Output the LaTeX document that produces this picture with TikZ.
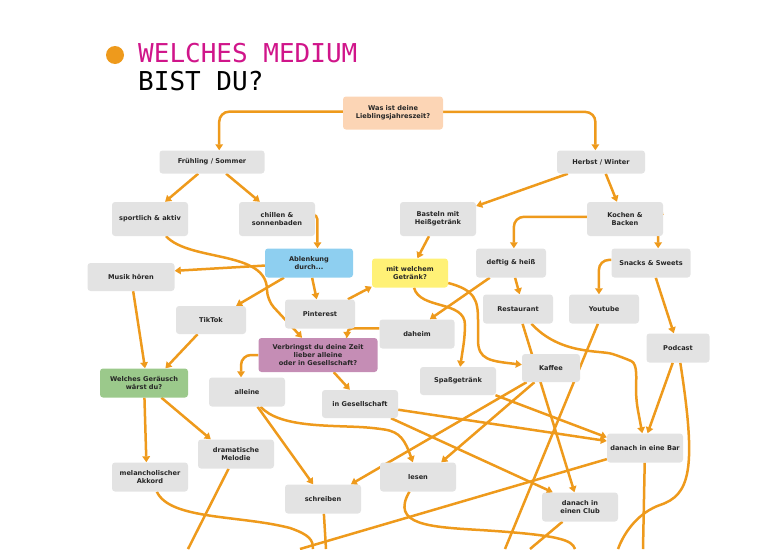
\documentclass[tikz,border=0pt]{standalone}
\usepackage{fontspec}
\setmainfont{DejaVu Sans}
\newfontfamily\titlefont{DejaVu Sans Mono}
\usetikzlibrary{arrows.meta}
\pgfdeclarelayer{bg}
\pgfsetlayers{bg,main}
\definecolor{arr}{HTML}{EE9A1C}
\definecolor{boxg}{HTML}{E3E3E3}
\definecolor{peach}{HTML}{FCD5B5}
\definecolor{skyb}{HTML}{8ECFF0}
\definecolor{yel}{HTML}{FFF176}
\definecolor{mauve}{HTML}{C58DB5}
\definecolor{grn}{HTML}{9BC98B}
\definecolor{mag}{HTML}{D0158A}
\tikzset{
 box/.style={rectangle,rounded corners=3pt,fill=boxg,inner sep=0pt,align=center,font=\fontsize{6.6}{8}\selectfont\bfseries,text=black!85},
 ar/.style={draw=arr,line width=2.5pt,-{Triangle[length=6pt,width=7.5pt]},rounded corners=10pt},
 ln/.style={draw=arr,line width=2.5pt},
}
\newcommand{\sh}[3]{([shift={(#1,#2)}]#3)}
\begin{document}
\begin{tikzpicture}[x=1pt,y=-1pt]
\useasboundingbox (0,0) rectangle (770,549);
\fill[arr] (115,55) circle (9);
\node[anchor=base west,inner sep=0,text=mag,font=\titlefont\fontsize{26}{26}\selectfont] (t1) at (138,62) {WELCHES MEDIUM};
\node[anchor=base west,inner sep=0,text=black,font=\titlefont\fontsize{26}{26}\selectfont] (t2) at (138,90) {BIST DU?};

\node[box,fill=peach,minimum width=100pt,minimum height=33pt] (Q1) at (393,113) {Was ist deine\\Lieblingsjahreszeit?};
\node[box,minimum width=105pt,minimum height=23pt] (FS) at (212,162) {Frühling / Sommer};
\node[box,minimum width=88pt,minimum height=23pt] (HW) at (601,162) {Herbst / Winter};
\node[box,minimum width=76pt,minimum height=34pt] (sport) at (150,219) {sportlich \& aktiv};
\node[box,minimum width=76pt,minimum height=34pt] (chill) at (277,219) {chillen \&\\sonnenbaden};
\node[box,minimum width=76pt,minimum height=34pt] (bast) at (438,219) {Basteln mit\\Heißgetränk};
\node[box,minimum width=76pt,minimum height=34pt] (koch) at (625,219) {Kochen \&\\Backen};
\node[box,minimum width=87pt,minimum height=28pt] (musik) at (131,277) {Musik hören};
\node[box,fill=skyb,minimum width=88pt,minimum height=29pt] (abl) at (309,263) {Ablenkung\\durch...};
\node[box,fill=yel,minimum width=76pt,minimum height=29pt] (getr) at (410,273) {mit welchem\\Getränk?};
\node[box,minimum width=70pt,minimum height=29pt] (deft) at (511,263) {deftig \& heiß};
\node[box,minimum width=79pt,minimum height=29pt] (snack) at (651,263) {Snacks \& Sweets};
\node[box,minimum width=70pt,minimum height=28pt] (tik) at (211,320) {TikTok};
\node[box,minimum width=70pt,minimum height=29pt] (pin) at (320,314) {Pinterest};
\node[box,minimum width=70pt,minimum height=29pt] (rest) at (518,309) {Restaurant};
\node[box,minimum width=70pt,minimum height=29pt] (yt) at (604,309) {Youtube};
\node[box,minimum width=75pt,minimum height=29pt] (dah) at (417,334) {daheim};
\node[box,fill=mauve,minimum width=119pt,minimum height=34pt] (verb) at (318,355) {Verbringst du deine Zeit\\lieber alleine\\oder in Gesellschaft?};
\node[box,minimum width=63pt,minimum height=29pt] (pod) at (678,348) {Podcast};
\node[box,minimum width=58pt,minimum height=28pt] (kaf) at (551,368) {Kaffee};
\node[box,minimum width=76pt,minimum height=28pt] (spass) at (458,381) {Spaßgetränk};
\node[box,fill=grn,minimum width=88pt,minimum height=29pt] (ger) at (144,383) {Welches Geräusch\\wärst du?};
\node[box,minimum width=76pt,minimum height=29pt] (all) at (247,392) {alleine};
\node[box,minimum width=76pt,minimum height=28pt] (ges) at (360,404) {in Gesellschaft};
\node[box,minimum width=76pt,minimum height=29pt] (bar) at (645,448) {danach in eine Bar};
\node[box,minimum width=76pt,minimum height=29pt] (dram) at (236,454) {dramatische\\Melodie};
\node[box,minimum width=76pt,minimum height=29pt] (mel) at (150,477) {melancholischer\\Akkord};
\node[box,minimum width=76pt,minimum height=29pt] (les) at (418,477) {lesen};
\node[box,minimum width=76pt,minimum height=29pt] (schr) at (323,499) {schreiben};
\node[box,minimum width=76pt,minimum height=29pt] (club) at (580,507) {danach in\\einen Club};

\coordinate (e1) at (505,549);
\coordinate (e2) at (618,549);
\coordinate (e3) at (643,549);
\coordinate (e4) at (300,549);
\coordinate (e5) at (188,549);
\coordinate (e6) at (313,549);
\coordinate (e7) at (326,549);
\coordinate (e8) at (575,549);
\coordinate (e9) at (530,549);

\begin{pgfonlayer}{bg}
\draw[ar] \sh{-60}{-4}{Q1} -| \sh{31}{-19}{FS};
\draw[ar] \sh{60}{-4}{Q1} -| \sh{-24}{-19}{HW};
\draw[ar] \sh{-27}{17}{FS} -- \sh{17}{-22}{sport};
\draw[ar] \sh{25}{17}{FS} -- \sh{-19}{-22}{chill};
\draw[ar] \sh{-36}{14}{HW} -- \sh{40}{-3}{bast};
\draw[ar] \sh{4}{14}{HW} -- \sh{-2}{-23}{koch};
\draw[ar,rounded corners=5pt] \sh{43}{-7}{chill} -| \sh{28}{-17}{abl};
\draw[ar] \sh{-43}{-6}{koch} -| \sh{9}{-17}{deft};
\draw[ar,rounded corners=5pt] \sh{42}{-7}{koch} -| \sh{24}{-17}{snack};
\draw[ar] \sh{-12}{22}{bast} -- \sh{6}{-18}{getr};
\draw[ar] \sh{10}{19}{deft} -- \sh{9}{-18}{rest};
\draw[ar] \sh{-40}{-5}{snack} -| \sh{-17}{-19}{yt};
\draw[ar] \sh{7}{15}{snack} -- \sh{-6}{-17}{pod};
\draw[ar] \sh{-4}{21}{sport} .. controls (190,262) and (267,250) .. (267,300) -- \sh{-51}{-20}{verb};
\draw[ar] \sh{-44}{-5}{abl} -- \sh{49}{3}{musik};
\draw[ar] \sh{-29}{18}{abl} -- \sh{19}{-22}{tik};
\draw[ar] \sh{4}{20}{abl} -- \sh{3}{-15}{pin};
\draw[ar] \sh{23}{-17}{pin} -- \sh{-42}{5}{getr};
\draw[ar] \sh{19}{19}{musik} -- \sh{-13}{-15}{ger};
\draw[ar] \sh{-3}{19}{tik} -- \sh{17}{-16}{ger};
\draw[ar,rounded corners=5pt] \sh{-40}{-8}{dah} -| \sh{45}{-18}{verb};
\draw[ar] \sh{-63}{0}{verb} -| \sh{-15}{-19}{all};
\draw[ar] \sh{22}{21}{verb} -- \sh{-8}{-16}{ges};
\draw[ar] \sh{-35}{3}{deft} -- \sh{16}{-17}{dah};
\draw[ar] \sh{-17}{17}{getr} .. controls (420,310) and (465,300) .. (465,335) -- \sh{7}{-18}{spass};
\draw[ar] \sh{42}{5}{getr} .. controls (475,290) and (478,300) .. (478,330) .. controls (478,360) and (490,361) .. \sh{-33}{-7}{kaf};
\draw[ar] \sh{-7}{15}{rest} -- \sh{13}{-19}{club};
\draw[ar] \sh{23}{15}{rest} .. controls (560,355) and (600,350) .. (622,357) .. controls (638,364) and (636,380) .. (636,400) -- \sh{-9}{-17}{bar};
\draw[ln] \sh{3}{19}{yt} -- (e1);
\draw[ar] \sh{-19}{19}{pod} -- \sh{26}{-16}{bar};
\draw[ln] \sh{19}{19}{pod} .. controls (697,470) and (690,495) .. (660,505) .. controls (640,512) and (625,530) .. (e2);
\draw[ln] \sh{11}{17}{bar} -- (e3);
\draw[ln] \sh{-41}{10}{bar} -- (e4);
\draw[ar] \sh{7}{17}{spass} -- \sh{-39}{-16}{bar};
\draw[ar] \sh{40}{-1}{ges} -- \sh{-41}{-3}{bar};
\draw[ar] \sh{40}{6}{ges} -- \sh{-41}{5}{club};
\draw[ar] \sh{-16}{19}{kaf} -- \sh{7}{-19}{schr};
\draw[ar] \sh{9}{19}{kaf} -- \sh{41}{-1}{les};
\draw[ar] \sh{17}{19}{all} -- \sh{-23}{-18}{schr};
\draw[ar] \sh{25}{18}{all} .. controls (280,428) and (330,425) .. (375,428) .. controls (400,432) and (405,440) .. \sh{-13}{-17}{les};
\draw[ar] \sh{-13}{17}{ger} -- \sh{-7}{-17}{mel};
\draw[ar] \sh{8}{22}{ger} -- \sh{-40}{-8}{dram};
\draw[ln] \sh{2}{19}{dram} -- (e5);
\draw[ln] \sh{7}{17}{mel} .. controls (170,520) and (240,515) .. (290,528) .. controls (310,535) and (313,540) .. (e6);
\draw[ln] \sh{0}{18}{schr} -- (e7);
\draw[ln] \sh{-30}{18}{les} .. controls (390,525) and (430,527) .. (480,530) .. controls (560,535) and (572,540) .. (e8);
\draw[ln] \sh{-27}{18}{club} -- (e9);
\end{pgfonlayer}
\end{tikzpicture}
\end{document}
